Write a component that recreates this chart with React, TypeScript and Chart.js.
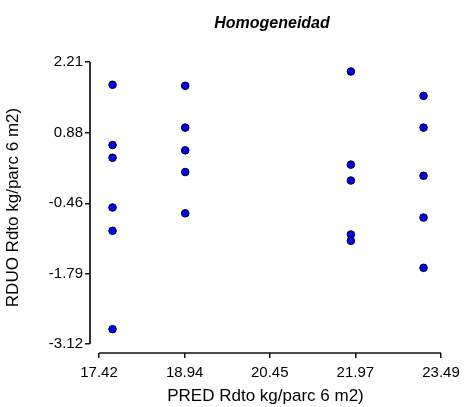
import React, { useEffect, useRef } from "react";
import { Chart, registerables } from "chart.js";

Chart.register(...registerables);

// Tick positions shown on each axis
const xTickValues = [17.42, 18.94, 20.45, 21.97, 23.49];
const yTickValues = [2.21, 0.88, -0.46, -1.79, -3.12];

// Predicted yield (x) and residual (y) for each plot
const predicted = [
  17.66, 17.66, 17.66, 17.66, 17.66, 17.66,
  18.95, 18.95, 18.95, 18.95, 18.95,
  21.89, 21.89, 21.89, 21.89, 21.89,
  23.18, 23.18, 23.18, 23.18, 23.18,
];
const residuals = [
  1.78, 0.64, 0.4, -0.54, -0.98, -2.84,
  1.76, 0.97, 0.54, 0.13, -0.65,
  2.03, 0.27, -0.03, -1.05, -1.17,
  1.57, 0.97, 0.06, -0.73, -1.68,
];

const titleText = "Homogeneidad";
const xTitle = "PRED Rdto kg/parc 6 m2)";
const yTitle = "RDUO Rdto kg/parc 6 m2)";

const FONT = "'Liberation Sans', Arial, Helvetica, sans-serif";

// Axis lines only span from the first to the last tick, detached at the corner
const axisLinesPlugin = {
  id: "axisLines",
  afterDraw(chart: any) {
    const { ctx, chartArea, scales } = chart;
    const xs = scales.x;
    const ys = scales.y;
    ctx.save();
    ctx.strokeStyle = "#111";
    ctx.lineWidth = 1.7;
    ctx.beginPath();
    const x0 = xs.getPixelForValue(xTickValues[0]);
    const x1 = xs.getPixelForValue(xTickValues[xTickValues.length - 1]);
    ctx.moveTo(x0, chartArea.bottom);
    ctx.lineTo(x1, chartArea.bottom);
    const y0 = ys.getPixelForValue(yTickValues[0]);
    const y1 = ys.getPixelForValue(yTickValues[yTickValues.length - 1]);
    ctx.moveTo(chartArea.left, y0);
    ctx.lineTo(chartArea.left, y1);
    ctx.stroke();

    ctx.fillStyle = "#000";
    ctx.font = `italic bold 16px ${FONT}`;
    ctx.textAlign = "center";
    ctx.textBaseline = "alphabetic";
    ctx.fillText(titleText, (x0 + x1) / 2 + 2, 28);
    ctx.restore();
  },
};

export default function App() {
  const canvasRef = useRef<HTMLCanvasElement | null>(null);

  useEffect(() => {
    document.body.style.margin = "0";
    const canvas = canvasRef.current;
    if (!canvas) return;

    const points = predicted.map((x, i) => ({ x, y: residuals[i] }));

    const chart = new Chart(canvas, {
      type: "scatter",
      data: {
        datasets: [
          {
            data: points,
            backgroundColor: "#0000ff",
            borderColor: "#000000",
            borderWidth: 1,
            pointRadius: 3.8,
          },
        ],
      },
      options: {
        animation: false,
        responsive: false,
        maintainAspectRatio: false,
        layout: { padding: { top: 62, right: 28, left: 0, bottom: 0 } },
        plugins: {
          legend: { display: false },
          tooltip: { enabled: false },
          title: { display: false },
        },
        scales: {
          x: {
            type: "linear",
            min: 17.26,
            max: 23.49,
            afterBuildTicks: (scale: any) => {
              scale.ticks = xTickValues.map((v) => ({ value: v }));
            },
            afterFit: (scale: any) => {
              scale.height = 54;
            },
            ticks: {
              callback: (v: any) => Number(v).toFixed(2),
              color: "#000",
              font: { family: FONT, size: 15 },
              padding: 6,
              maxRotation: 0,
              autoSkip: false,
            },
            grid: {
              display: true,
              drawOnChartArea: false,
              drawTicks: true,
              tickLength: 5,
              color: "#111",
              lineWidth: 1.5,
            },
            border: { display: false },
            title: {
              display: true,
              text: xTitle,
              color: "#000",
              font: { family: FONT, size: 17 },
              padding: { top: 0, bottom: 0 },
            },
          },
          y: {
            type: "linear",
            min: -3.29,
            max: 2.21,
            afterBuildTicks: (scale: any) => {
              scale.ticks = yTickValues.map((v) => ({ value: v }));
            },
            afterFit: (scale: any) => {
              scale.width = 90;
            },
            ticks: {
              callback: (v: any) => Number(v).toFixed(2),
              color: "#000",
              font: { family: FONT, size: 15 },
              padding: 2,
              autoSkip: false,
            },
            grid: {
              display: true,
              drawOnChartArea: false,
              drawTicks: true,
              tickLength: 5,
              color: "#111",
              lineWidth: 1.5,
            },
            border: { display: false },
            title: {
              display: true,
              text: yTitle,
              color: "#000",
              font: { family: FONT, size: 17 },
              padding: { top: 3, bottom: 0 },
            },
          },
        },
      },
      plugins: [axisLinesPlugin],
    });

    return () => {
      chart.destroy();
    };
  }, []);

  return (
    <div style={{ width: 469, height: 407, background: "#fff" }}>
      <canvas ref={canvasRef} width={469} height={407} style={{ display: "block" }} />
    </div>
  );
}
